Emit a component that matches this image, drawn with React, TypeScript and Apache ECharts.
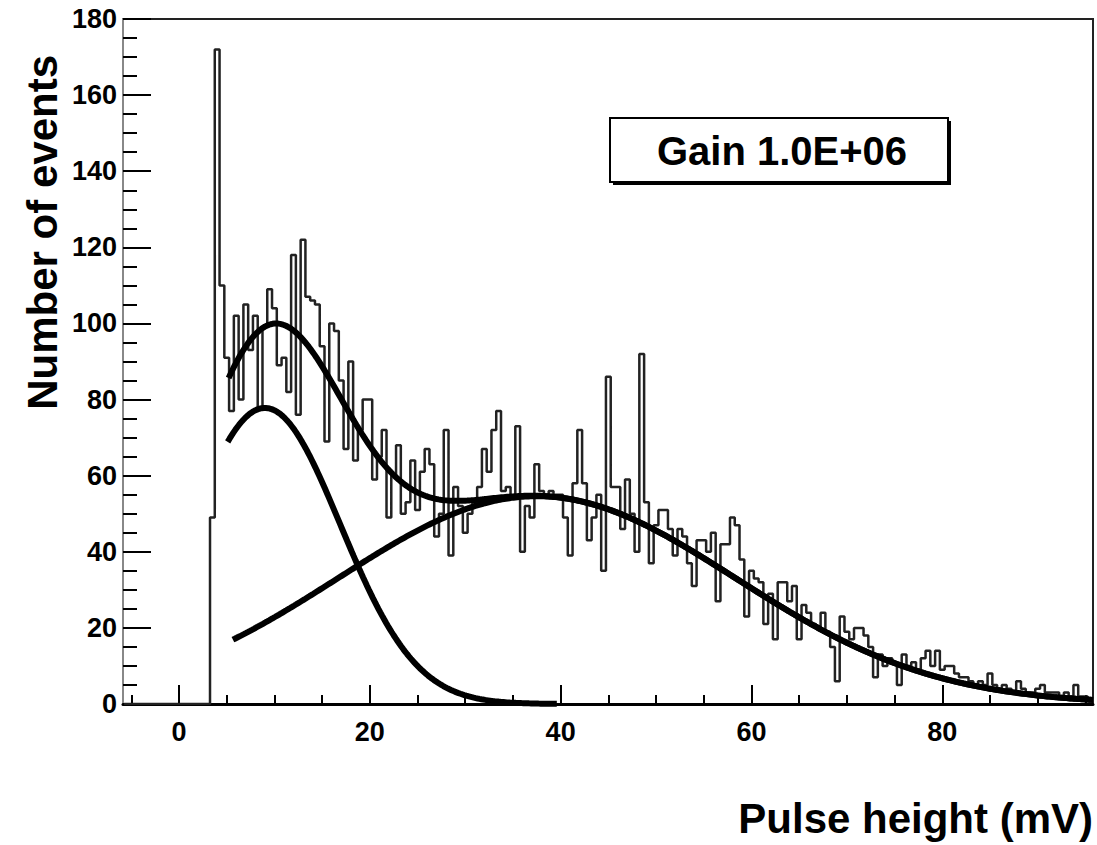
import React, { useEffect, useRef } from 'react';
import * as echarts from 'echarts';

// Histogram: pulse-height spectrum, 0.5 mV bins starting at 3.25 mV
const binStart = 3.25;
const binWidth = 0.5;
const counts = [
  49, 172, 110, 91, 77, 102, 80, 105, 93, 102,
  78, 99, 109, 104, 89, 91, 82, 118, 76, 122,
  107, 106, 105, 94, 69, 100, 98, 85, 67, 90,
  64, 72, 80, 80, 59, 65, 72, 49, 60, 68,
  50, 53, 64, 51, 61, 67, 63, 44, 50, 72,
  39, 57, 52, 45, 50, 53, 57, 67, 61, 72,
  77, 56, 57, 54, 73, 40, 52, 49, 63, 56,
  55, 56, 55, 55, 49, 39, 58, 72, 58, 43,
  49, 55, 35, 86, 57, 57, 46, 59, 50, 40,
  92, 53, 37, 47, 51, 51, 46, 39, 46, 44,
  37, 31, 43, 43, 40, 45, 27, 42, 42, 49,
  47, 38, 23, 35, 33, 32, 21, 29, 17, 32,
  32, 27, 31, 17, 26, 24, 21, 20, 24, 19,
  15, 6, 23, 19, 17, 20, 20, 18, 15, 7,
  13, 10, 12, 11, 5, 13, 10, 11, 9, 12,
  14, 10, 14, 9, 10, 10, 8, 7, 7, 6,
  5, 6, 5, 8, 5, 4, 5, 4, 3, 6,
  4, 3, 3, 4, 5, 3, 3, 3, 2, 3,
  2, 5, 2, 2, 1,
];

// Double-gaussian fit parameters (amplitude, mean, sigma) and drawn ranges
const fitAmp = [77.8, 54.6];
const fitMean = [9.0, 37.5];
const fitSigma = [7.9, 20.8];
const componentRanges = [[5.1, 39.6], [5.65, 95.8]];
const totalRange = [5.2, 95.8];

const xMin = -5.87;
const xMax = 95.8;
const xMajorTicks = [0, 20, 40, 60, 80];
const xMinorTicks = [-5, 0, 5, 10, 15, 20, 25, 30, 35, 40, 45, 50, 55, 60, 65, 70, 75, 80, 85, 90, 95];

const xTitle = 'Pulse height (mV)';
const yTitle = 'Number of events';
const boxLabel = 'Gain 1.0E+06';

const FONT = '"Liberation Sans", Arial, Helvetica, sans-serif';

function gauss(i: number, x: number) {
  const d = x - fitMean[i];
  return fitAmp[i] * Math.exp(-(d * d) / (2 * fitSigma[i] * fitSigma[i]));
}

function sample(range: number[], f: (x: number) => number) {
  const pts: number[][] = [];
  const step = 0.2;
  for (let x = range[0]; x < range[1]; x += step) pts.push([x, f(x)]);
  pts.push([range[1], f(range[1])]);
  return pts;
}

export default function App() {
  const ref = useRef<HTMLDivElement>(null);
  useEffect(() => {
    const chart = echarts.init(ref.current!, null, { renderer: 'svg' });
    const histData: number[][] = [[-5.75, 0]];
    counts.forEach((c, i) => histData.push([binStart + i * binWidth, c]));
    histData.push([binStart + counts.length * binWidth, counts[counts.length - 1]]);

    const comp1 = sample(componentRanges[0], (x) => gauss(0, x));
    const comp2 = sample(componentRanges[1], (x) => gauss(1, x));
    const total = sample(totalRange, (x) => gauss(0, x) + gauss(1, x));

    const fitLine = { color: '#000', width: 6 };

    chart.setOption({
      animation: false,
      backgroundColor: '#fff',
      grid: {
        left: 123, right: 4, top: 19, bottom: 141,
        show: true, borderColor: '#222', borderWidth: 2, backgroundColor: 'transparent',
      },
      xAxis: [
        {
          type: 'value', min: xMin, max: xMax,
          axisLine: { show: true, onZero: false, lineStyle: { color: '#000', width: 3 } },
          axisTick: { show: true, inside: true, length: 19, customValues: xMajorTicks, lineStyle: { color: '#000', width: 2 } },
          axisLabel: { customValues: xMajorTicks, fontSize: 27, fontWeight: 'bold', fontFamily: FONT, color: '#000', margin: 14 },
          splitLine: { show: false },
        },
        {
          type: 'value', min: xMin, max: xMax, position: 'bottom',
          axisLine: { show: false, onZero: false },
          axisTick: { show: true, inside: true, length: 9, customValues: xMinorTicks, lineStyle: { color: '#000', width: 2 } },
          axisLabel: { show: false },
          splitLine: { show: false },
        },
      ],
      yAxis: {
        type: 'value', min: 0, max: 180, interval: 20,
        axisLine: { show: true, onZero: false, lineStyle: { color: '#888', width: 2 } },
        axisTick: { show: true, inside: true, length: 28, lineStyle: { color: '#000', width: 2 } },
        minorTick: { show: true, splitNumber: 4, length: 14, lineStyle: { color: '#000', width: 2 } },
        axisLabel: { fontSize: 27, fontWeight: 'bold', fontFamily: FONT, color: '#000', margin: 6 },
        splitLine: { show: false },
        minorSplitLine: { show: false },
      },
      series: [
        {
          type: 'line', step: 'end', data: histData, symbol: 'none',
          lineStyle: { color: '#222', width: 2.5 }, z: 2,
        },
        { type: 'line', data: comp1, symbol: 'none', lineStyle: fitLine, z: 3 },
        { type: 'line', data: comp2, symbol: 'none', lineStyle: fitLine, z: 3 },
        { type: 'line', data: total, symbol: 'none', lineStyle: fitLine, z: 3 },
      ],
      graphic: [
        { type: 'rect', shape: { x: 613, y: 121, width: 338, height: 64 }, style: { fill: '#000' }, z: 10 },
        { type: 'rect', shape: { x: 610, y: 118, width: 338, height: 64 }, style: { fill: '#fff', stroke: '#000', lineWidth: 2 }, z: 11 },
        {
          type: 'text', x: 782, y: 151, z: 12,
          style: { text: boxLabel, font: `bold 40px ${FONT}`, fill: '#000', align: 'center', verticalAlign: 'middle' },
        },
        {
          type: 'text', x: 1093, y: 818, z: 12,
          style: { text: xTitle, font: `bold 42px ${FONT}`, fill: '#000', align: 'right', verticalAlign: 'middle' },
        },
        {
          type: 'text', x: 42, y: 55, rotation: Math.PI / 2, z: 12,
          style: { text: yTitle, font: `bold 42px ${FONT}`, fill: '#000', align: 'right', verticalAlign: 'middle' },
        },
      ],
    });
    return () => chart.dispose();
  }, []);
  return <div ref={ref} style={{ position: 'absolute', left: 0, top: 0, width: 1097, height: 845 }} />;
}
